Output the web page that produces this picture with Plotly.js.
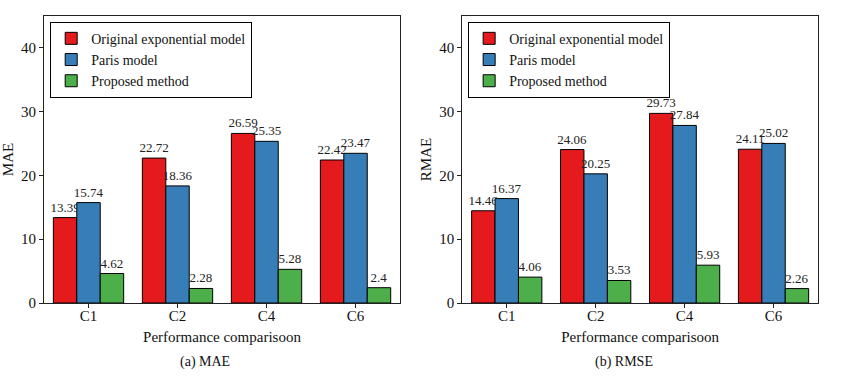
<!DOCTYPE html>
<html>
<head>
<meta charset="utf-8">
<script src="https://cdn.plot.ly/plotly-3.0.1.min.js"></script>
<style>html,body{margin:0;padding:0;background:#fff;}#chart{width:859px;height:380px;}</style>
</head>
<body>
<div id="chart"></div>
<script>
const categories = ["C1", "C2", "C4", "C6"];
const seriesNames = ["Original exponential model", "Paris model", "Proposed method"];
const maeOriginal = [13.39, 22.72, 26.59, 22.42];
const maeParis = [15.74, 18.36, 25.35, 23.47];
const maeProposed = [4.62, 2.28, 5.28, 2.4];
const rmseOriginal = [14.46, 24.06, 29.73, 24.11];
const rmseParis = [16.37, 20.25, 27.84, 25.02];
const rmseProposed = [4.06, 3.53, 5.93, 2.26];
const colors = ["#e41a1c", "#377eb8", "#4daf4a"];

const FONT = "'Liberation Serif', 'Times New Roman', serif";

function bars(vals, idx, xa, ya, leg) {
  return {
    type: "bar", x: categories, y: vals, name: seriesNames[idx],
    xaxis: xa, yaxis: ya, legend: leg,
    marker: {color: colors[idx], line: {color: "#000", width: 1}},
    text: vals.map(v => String(v)), textposition: "outside",
    textfont: {family: FONT, size: 13, color: "#222"},
    constraintext: "none", cliponaxis: false, hoverinfo: "x+y"
  };
}

const data = [
  bars(maeOriginal, 0, "x", "y", "legend"),
  bars(maeParis, 1, "x", "y", "legend"),
  bars(maeProposed, 2, "x", "y", "legend"),
  bars(rmseOriginal, 0, "x2", "y2", "legend2"),
  bars(rmseParis, 1, "x2", "y2", "legend2"),
  bars(rmseProposed, 2, "x2", "y2", "legend2")
];

const axisCommon = {
  showline: true, linecolor: "#222", linewidth: 1, mirror: true,
  ticks: "outside", ticklen: 4, tickcolor: "#222",
  tickfont: {family: FONT, size: 15, color: "#111"},
  showgrid: false, zeroline: false
};

const xaxisBase = Object.assign({}, axisCommon, {
  range: [-0.5, 3.5], type: "category", ticklabelstandoff: -5,
  title: {text: "Performance comparisoon", font: {family: FONT, size: 15, color: "#111"}, standoff: 8}
});

const legendBase = {
  bgcolor: "#fff", bordercolor: "#000", borderwidth: 1,
  font: {family: FONT, size: 14, color: "#111"},
  xanchor: "left", yanchor: "top", traceorder: "normal",
  itemwidth: 30, tracegroupgap: 0
};

const layout = {
  width: 859, height: 380,
  margin: {l: 44, r: 41, t: 16, b: 77},
  paper_bgcolor: "#fff", plot_bgcolor: "#fff",
  barmode: "group", bargap: 0.21, bargroupgap: 0,
  font: {family: FONT},
  xaxis: Object.assign({}, xaxisBase, {domain: [0, 0.46], anchor: "y"}),
  xaxis2: Object.assign({}, xaxisBase, {domain: [0.5404, 1], anchor: "y2"}),
  yaxis: Object.assign({}, axisCommon, {
    range: [0, 45], tickvals: [0, 10, 20, 30, 40], anchor: "x",
    title: {text: "MAE", font: {family: FONT, size: 15, color: "#111"}, standoff: 4}
  }),
  yaxis2: Object.assign({}, axisCommon, {
    range: [0, 45], tickvals: [0, 10, 20, 30, 40], anchor: "x2",
    title: {text: "RMAE", font: {family: FONT, size: 15, color: "#111"}, standoff: 4}
  }),
  legend: Object.assign({}, legendBase, {x: 0.008, y: 0.98}),
  legend2: Object.assign({}, legendBase, {x: 0.548, y: 0.98}),
  annotations: [
    {text: "(a) MAE", xref: "paper", yref: "paper", x: 0.208, y: -0.205, xanchor: "center", yanchor: "middle",
     showarrow: false, font: {family: FONT, size: 14, color: "#111"}},
    {text: "(b) RMSE", xref: "paper", yref: "paper", x: 0.749, y: -0.205, xanchor: "center", yanchor: "middle",
     showarrow: false, font: {family: FONT, size: 14, color: "#111"}}
  ]
};

Plotly.newPlot("chart", data, layout, {displayModeBar: false, staticPlot: true});
</script>
</body>
</html>
